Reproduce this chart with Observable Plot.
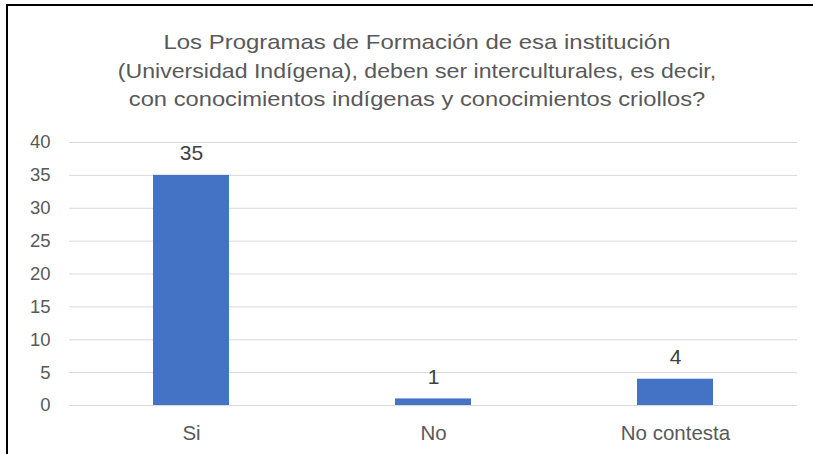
<!DOCTYPE html>
<html>
<head>
<meta charset="utf-8">
<script src="https://cdn.jsdelivr.net/npm/d3@7"></script>
<script src="https://cdn.jsdelivr.net/npm/@observablehq/plot@0.6"></script>
<style>
  html, body { margin: 0; padding: 0; background: #fff; overflow: hidden; }
  body { width: 813px; height: 454px; position: relative; font-family: "Liberation Sans", Arial, sans-serif; }
  #frame { position: absolute; left: 6px; top: 4px; width: 830px; height: 470px; border: 2px solid #000; box-sizing: border-box; }
  #title { position: absolute; left: 0; top: 28px; width: 834px; font-size: 21px; line-height: 28.5px; color: #595959; }
  #title div { text-align: center; white-space: nowrap; transform-origin: 417px 0; }
  #chart { position: absolute; left: 0; top: 0; }
</style>
</head>
<body>
<div id="frame"></div>
<div id="chart"></div>
<div id="title">
  <div style="transform: scaleX(1.14)">Los Programas de Formación de esa institución</div>
  <div style="transform: scaleX(1.10)">(Universidad Indígena), deben ser interculturales, es decir,</div>
  <div style="transform: scaleX(1.13)">con conocimientos indígenas y conocimientos criollos?</div>
</div>
<script>
const categories = ["Si", "No", "No contesta"];
const values = [35, 1, 4];
const yTicks = [0, 5, 10, 15, 20, 25, 30, 35, 40];

const data = categories.map((c, i) => ({ cat: c, value: values[i] }));

const chart = Plot.plot({
  width: 813,
  height: 454,
  marginLeft: 69,
  marginRight: 16,
  marginTop: 142,
  marginBottom: 49,
  style: { fontFamily: "'Liberation Sans', Arial, sans-serif", fontSize: "18px", color: "#595959", background: "transparent" },
  x: { domain: categories, padding: 0, label: null, tickSize: 0, tickPadding: 20 },
  y: { domain: [0, 40], ticks: yTicks, label: null, tickSize: 0, tickPadding: 19 },
  marks: [
    Plot.gridY(yTicks, { stroke: "#d9d9d9", strokeOpacity: 1, strokeWidth: 1 }),
    Plot.barY(data, { x: "cat", y: "value", fill: "#4472C4", insetLeft: 83, insetRight: 83 }),
    Plot.text(data, { x: "cat", y: "value", text: d => String(d.value), dy: -22, fill: "#404040", fontSize: 21 })
  ]
});
chart.querySelectorAll("[aria-label='y-axis tick label'] text").forEach(t => { t.setAttribute("fill", "#595959"); t.style.fontSize = "18.5px"; });
chart.querySelectorAll("[aria-label='x-axis tick label'] text").forEach(t => { t.setAttribute("fill", "#595959"); t.style.fontSize = "20.5px"; });
document.getElementById("chart").appendChild(chart);
</script>
</body>
</html>
